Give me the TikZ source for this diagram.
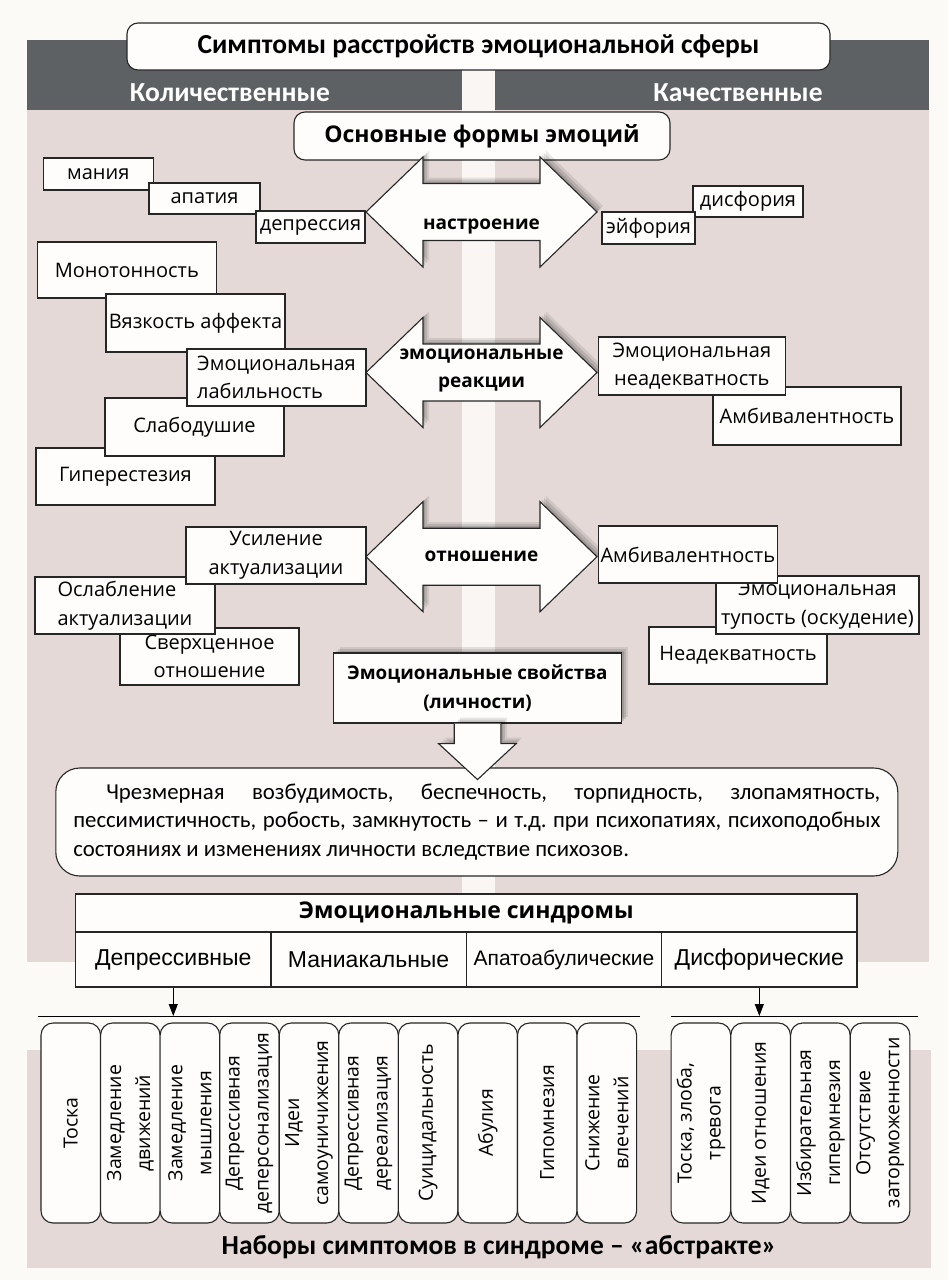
\documentclass[tikz,border=0pt]{standalone}
\usepackage{fontspec}
\setmainfont{Open Sans}
\newfontfamily\calfont{Carlito}
\newfontfamily\arialfont{Liberation Sans}
\usetikzlibrary{shapes,arrows,arrows.meta,positioning,backgrounds,shadows}
\frenchspacing
\definecolor{page}{RGB}{251,250,247}
\definecolor{panel}{RGB}{228,217,215}
\definecolor{band}{RGB}{94,97,99}
\definecolor{stripe}{RGB}{249,246,244}
\definecolor{boxfill}{RGB}{254,253,252}
\tikzset{%
sqbox/.style={draw=black!85, line width=1.1pt, fill=boxfill, inner sep=0pt, align=center, font=\fontsize{20}{28.5}\selectfont},
rbox/.style={sqbox, rounded corners=11pt},
softshadow/.style={general shadow={fill=black, opacity=.13, shadow xshift=2pt, shadow yshift=2pt},
  general shadow={fill=black, opacity=.11, shadow xshift=4pt, shadow yshift=4pt},
  general shadow={fill=black, opacity=.09, shadow xshift=6pt, shadow yshift=6pt}},
bigarr/.style={draw=black!85, line width=1.1pt, fill=boxfill, line join=miter, softshadow},
arrlbl/.style={font=\bfseries\fontsize{19}{28}\selectfont, align=center},
pill/.style={draw=black!85, line width=1.1pt, fill=boxfill, rounded corners=12pt, rotate=90, minimum width=200pt, minimum height=59.5pt, inner sep=0pt, align=center, font=\fontsize{19.5}{29}\selectfont},
cell/.style={sqbox, minimum width=195.35pt, minimum height=55pt, font=\arialfont\fontsize{23}{26}\selectfont},
dn/.style={draw=black, line width=1pt, ->, >={Stealth[length=12pt,width=9pt,inset=0pt]}}
}

\begin{document}
\begin{tikzpicture}[x=1pt,y=-1pt]
\useasboundingbox (0,0) rectangle (948,1280);
\fill[page] (0,0) rectangle (948,1280);
% backgrounds
\fill[band] (27,40) rectangle (929,110);
\fill[panel] (27,110) rectangle (929,962);
\fill[panel] (27,1050) rectangle (931,1268);
\fill[stripe] (462,40) rectangle (495,893);

% header
\node[rbox, minimum width=703pt, minimum height=47pt, font=\calfont\bfseries\fontsize{27.5}{30}\selectfont] (title) at (478.5,46.5) {Симптомы расстройств эмоциональной сферы};
\node[text=white, font=\calfont\bfseries\fontsize{27.5}{30}\selectfont] (quant) at (230,93) {Количественные};
\node[text=white, font=\calfont\bfseries\fontsize{27.5}{30}\selectfont] (qual) at (738,93) {Качественные};
\node[rbox, minimum width=376pt, minimum height=48pt, font=\bfseries\fontsize{23}{30}\selectfont] (forms) at (482,136) {Основные формы эмоций};

% big double arrows
\foreach \yc/\nm/\txt/\dy in {212/mood/настроение/14, 372.5/react/{эмоциональные\\реакции}/-2, 556.7/attit/отношение/0}{
  \draw[bigarr] (366,\yc) -- (423,\yc-55) -- (423,\yc-28.5) -- (540,\yc-28.5) -- (540,\yc-55) -- (597,\yc)
    -- (540,\yc+55) -- (540,\yc+28.5) -- (423,\yc+28.5) -- (423,\yc+55) -- cycle;
  \node[arrlbl] (\nm) at (481.5,\yc+\dy) {\txt};
}

% mood
\node[sqbox, minimum width=109.5pt, minimum height=32pt] (mania) at (98.3,174) {мания};
\node[sqbox, minimum width=111pt, minimum height=31pt] (apat) at (204.5,198.5) {апатия};
\node[sqbox, minimum width=109pt, minimum height=32pt] (depr) at (310.5,227) {депрессия};
\node[sqbox, minimum width=110pt, minimum height=31pt] (dysph) at (748,201.5) {дисфория};
\node[sqbox, minimum width=93pt, minimum height=32pt] (euph) at (648.5,228) {эйфория};

% reactions
\node[sqbox, minimum width=178.5pt, minimum height=56pt] (monot) at (126.8,270) {Монотонность};
\node[sqbox, minimum width=179pt, minimum height=58pt] (visc) at (195.5,323) {Вязкость аффекта};
\node[sqbox, minimum width=179pt, minimum height=57pt] (hyper) at (125.5,476.5) {Гиперестезия};
\node[sqbox, minimum width=179pt, minimum height=58pt] (weak) at (194.5,427) {Слабодушие};
\node[sqbox, minimum width=179pt, minimum height=57pt, align=left] (labil) at (276.5,377.5) {Эмоциональная\\лабильность};
\node[sqbox, minimum width=188pt, minimum height=58pt] (ambi) at (807,416) {Амбивалентность};
\node[sqbox, minimum width=186.5pt, minimum height=58pt] (inad) at (691.8,366) {Эмоциональная\\неадекватность};

% attitude
\node[sqbox, minimum width=179pt, minimum height=57pt] (overv) at (209.5,656.5) {Сверхценное\\отношение};
\node[sqbox, minimum width=180pt, minimum height=57pt, align=left] (weakact) at (125,605.5) {Ослабление\\актуализации};
\node[sqbox, minimum width=180pt, minimum height=57pt] (stract) at (276,555.5) {Усиление\\актуализации};
\node[sqbox, minimum width=178pt, minimum height=57pt] (inadq) at (738,655.5) {Неадекватность};
\node[sqbox, minimum width=203pt, minimum height=58pt] (dull) at (817.5,605) {Эмоциональная\\тупость (оскудение)};
\node[sqbox, minimum width=178.5pt, minimum height=57pt] (ambi2) at (687.8,554.5) {Амбивалентность};

% personality
\node[sqbox, rounded corners=24pt, minimum width=842pt, minimum height=108pt, text width=807pt, align=justify,
  font=\calfont\fontsize{22.8}{28.5}\selectfont] (traits) at (476.8,822)
  {\hspace*{33pt}Чрезмерная возбудимость, беспечность, торпидность, злопамятность,\linebreak
   пессимистичность, робость, замкнутость – и т.д. при психопатиях, психоподобных\linebreak
   состояниях и изменениях личности вследствие психозов.};
\node[sqbox, softshadow, minimum width=288pt, minimum height=70pt, font=\bfseries\fontsize{18.8}{29}\selectfont] (props) at (477.5,688) {Эмоциональные свойства\\(личности)};
\draw[bigarr] ([xshift=-23.3pt]props.south) -- ++(0,20) -- ++(-15.7,0) -- ++(39,36) -- ++(38.7,-36) -- ++(-15.3,0) -- ++(0,-20);

% syndromes
\node[sqbox, minimum width=781.4pt, minimum height=38pt, font=\bfseries\fontsize{23}{26}\selectfont] (synd) at (466.3,913) {Эмоциональные синдромы};
\foreach \i/\nm/\txt in {1/dep/Депрессивные, 2/man/Маниакальные, 4/dys/Дисфорические}
  \node[cell] (\nm) at ({75.6+195.35*(\i-0.5)},959.5) {\txt};
\node[cell, font=\arialfont\fontsize{21}{26}\selectfont] (apa) at (75.6+195.35*2.5,959.5) {Апатоабулические};

\coordinate (la) at (37.5,1016);
\coordinate (lb) at (640,1016);
\coordinate (ra) at (671,1016);
\coordinate (rb) at (918,1016);
\draw[line width=1pt] (la) -- (lb);
\draw[line width=1pt] (ra) -- (rb);
\draw[dn] (dep.south) -- (dep.south |- la);
\draw[dn] (dys.south) -- (dys.south |- ra);

% symptom sets
\foreach \i/\nm/\txt in {1/tosk/Тоска, 2/zmdv/{Замедление\\движений}, 3/zmdm/{Замедление\\мышления},
  4/dpers/{Депрессивная\\деперсонализация}, 5/samou/{Идеи\\самоуничижения}, 6/dreal/{Депрессивная\\дереализация},
  7/suic/Суицидальность, 8/abul/Абулия, 9/gipo/Гипомнезия, 10/vlech/{Снижение\\влечений}}
  \node[pill] (\nm) at ({41+59.56*(\i-0.5)},1123) {\txt};
\foreach \i/\nm/\txt in {1/tzt/{Тоска, злоба,\\тревога}, 2/idot/Идеи отношения, 3/izbg/{Избирательная\\гипермнезия},
  4/otsz/{Отсутствие\\заторможенности}}
  \node[pill] (\nm) at ({671+59.75*(\i-0.5)},1123) {\txt};

\node[font=\calfont\bfseries\fontsize{27.5}{30}\selectfont] (sets) at (499,1247) {Наборы симптомов в синдроме – «абстракте»};
\end{tikzpicture}
\end{document}
